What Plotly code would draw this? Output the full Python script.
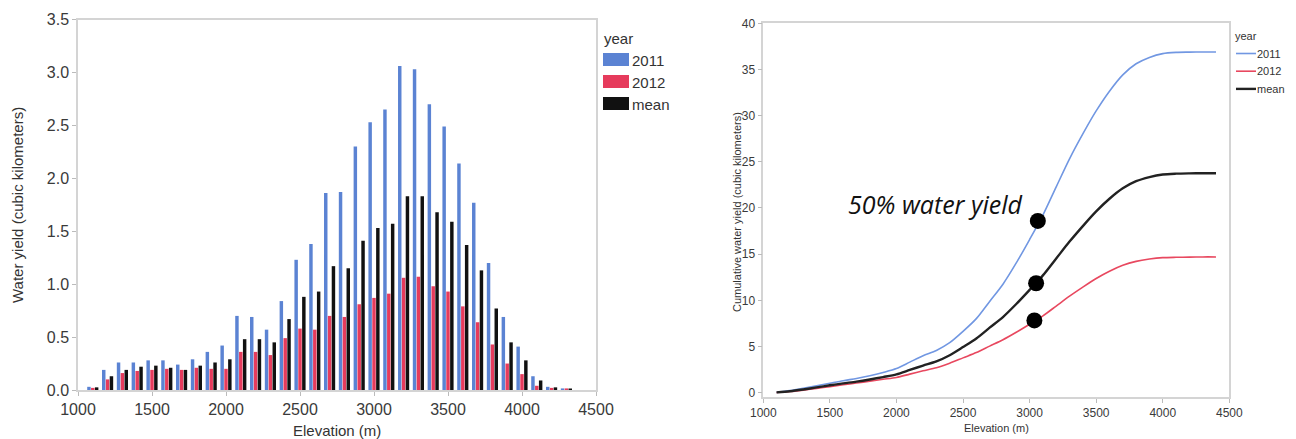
import plotly.graph_objects as go

W, H = 1296, 439

# ---------------- data ----------------
elevation = [1100, 1200, 1300, 1400, 1500, 1600, 1700, 1800, 1900, 2000,
             2100, 2200, 2300, 2400, 2500, 2600, 2700, 2800, 2900, 3000,
             3100, 3200, 3300, 3400, 3500, 3600, 3700, 3800, 3900, 4000,
             4100, 4200, 4300]
yield_2011 = [0.03, 0.19, 0.26, 0.26, 0.28, 0.28, 0.24, 0.29, 0.36, 0.42,
              0.70, 0.69, 0.57, 0.84, 1.23, 1.38, 1.86, 1.87, 2.30, 2.53,
              2.65, 3.06, 3.03, 2.70, 2.49, 2.14, 1.77, 1.20, 0.69, 0.41,
              0.13, 0.03, 0.015]
yield_2012 = [0.02, 0.10, 0.16, 0.18, 0.19, 0.20, 0.19, 0.21, 0.20, 0.20,
              0.36, 0.36, 0.33, 0.49, 0.58, 0.57, 0.70, 0.69, 0.81, 0.87,
              0.91, 1.06, 1.07, 0.98, 0.93, 0.79, 0.64, 0.43, 0.25, 0.15,
              0.04, 0.02, 0.015]
yield_mean = [0.025, 0.13, 0.19, 0.22, 0.23, 0.21, 0.19, 0.23, 0.26, 0.29,
              0.48, 0.48, 0.45, 0.67, 0.88, 0.93, 1.17, 1.15, 1.41, 1.53,
              1.57, 1.83, 1.83, 1.68, 1.59, 1.37, 1.13, 0.77, 0.45, 0.28,
              0.09, 0.025, 0.01]

cum_elevation = [1100, 1200, 1300, 1400, 1500, 1600, 1700, 1800, 1900, 2000,
                 2100, 2200, 2300, 2400, 2500, 2600, 2700, 2800, 2900, 3000,
                 3100, 3200, 3300, 3400, 3500, 3600, 3700, 3800, 3900, 4000,
                 4100, 4200, 4300, 4400]
cum_2011 = [0.03, 0.22, 0.48, 0.74, 1.02, 1.30, 1.54, 1.83, 2.19, 2.61,
            3.31, 4.00, 4.57, 5.41, 6.64, 8.02, 9.88, 11.75, 14.05, 16.58,
            19.23, 22.29, 25.32, 28.02, 30.51, 32.65, 34.42, 35.62, 36.31, 36.72,
            36.85, 36.88, 36.90, 36.90]
cum_2012 = [0.02, 0.12, 0.28, 0.46, 0.65, 0.85, 1.04, 1.25, 1.45, 1.65,
            2.01, 2.37, 2.70, 3.19, 3.77, 4.34, 5.04, 5.73, 6.54, 7.41,
            8.32, 9.38, 10.45, 11.43, 12.36, 13.15, 13.79, 14.22, 14.47, 14.62,
            14.66, 14.68, 14.70, 14.70]
cum_mean = [0.03, 0.16, 0.35, 0.57, 0.80, 1.01, 1.20, 1.43, 1.69, 1.98,
            2.46, 2.94, 3.39, 4.06, 4.94, 5.87, 7.04, 8.19, 9.60, 11.13,
            12.70, 14.53, 16.36, 18.04, 19.63, 21.00, 22.13, 22.90, 23.35, 23.63,
            23.72, 23.75, 23.76, 23.76]

half_elevation = [3062, 3036, 3049]
half_yield = [18.6, 7.83, 11.85]

series_names = ["2011", "2012", "mean"]
x_ticks = [1000, 1500, 2000, 2500, 3000, 3500, 4000, 4500]
left_y_ticks = [0.0, 0.5, 1.0, 1.5, 2.0, 2.5, 3.0, 3.5]
right_y_ticks = [0, 5, 10, 15, 20, 25, 30, 35, 40]

BAR_COLORS = ["#5B83D3", "#E63B5C", "#111111"]
LINE_COLORS = ["#7197E2", "#E8485F", "#222222"]
LINE_WIDTHS = [1.6, 1.6, 2.4]

FONT = "Liberation Sans, Arial, sans-serif"


def px(x):
    return x / W


def py(y):
    return 1 - y / H


fig = go.Figure()

for name, vals, col in zip(series_names, [yield_2011, yield_2012, yield_mean], BAR_COLORS):
    fig.add_trace(go.Bar(x=elevation, y=vals, name=name, marker_color=col,
                         marker_line_width=0, xaxis="x", yaxis="y", showlegend=False))

for name, vals, col, lw in zip(series_names, [cum_2011, cum_2012, cum_mean], LINE_COLORS, LINE_WIDTHS):
    fig.add_trace(go.Scatter(x=cum_elevation, y=vals, name=name, mode="lines",
                             line=dict(color=col, width=lw, shape="spline", smoothing=0.8),
                             xaxis="x2", yaxis="y2", showlegend=False))

fig.add_trace(go.Scatter(x=half_elevation, y=half_yield, mode="markers",
                         marker=dict(color="#000000", size=16),
                         xaxis="x2", yaxis="y2", showlegend=False, name="50%"))

axis_common = dict(showgrid=False, zeroline=False, showline=True, mirror=True,
                   linecolor="#D4D4D4", linewidth=1.5, ticks="outside",
                   tickcolor="#BBBBBB", ticklen=4, tickwidth=1, automargin=False)

fig.update_layout(
    width=W, height=H,
    margin=dict(l=0, r=0, t=0, b=0, pad=0, autoexpand=False),
    paper_bgcolor="white", plot_bgcolor="white",
    barmode="group", bargap=0.22, bargroupgap=0.1,
    font=dict(family=FONT, color="#333333"),
    xaxis=dict(domain=[px(78), px(596)], range=[1000, 4500], tickvals=x_ticks,
               tickfont=dict(size=16, color="#3A3A3A"), anchor="y", **axis_common),
    yaxis=dict(domain=[py(390), py(19.5)], range=[0, 3.5], tickvals=left_y_ticks,
               ticktext=[f"{v:.1f}" for v in left_y_ticks],
               tickfont=dict(size=16, color="#3A3A3A"), anchor="x", **axis_common),
    xaxis2=dict(domain=[px(763.3), px(1229.3)], range=[1000, 4500], tickvals=x_ticks,
                tickfont=dict(size=12, color="#3A3A3A"), anchor="y2", **axis_common),
    yaxis2=dict(domain=[py(397.3), py(23.3)], range=[-0.5, 40], tickvals=right_y_ticks,
                tickfont=dict(size=12, color="#3A3A3A"), anchor="x2", **axis_common),
)

annotations = []
shapes = []


def label(x, y, text, size, xanchor="center", angle=0, family=FONT, color="#333333"):
    annotations.append(dict(x=px(x), y=py(y), xref="paper", yref="paper",
                            xanchor=xanchor, yanchor="middle", textangle=angle,
                            text=text, showarrow=False,
                            font=dict(size=size, color=color, family=family)))


# axis titles
label(17, 205, "Water yield (cubic kilometers)", 15, angle=-90)
label(337, 430, "Elevation (m)", 15)
label(737, 212, "Cumulative water yield (cubic kilometers)", 11, angle=-90)
label(996, 428, "Elevation (m)", 11)

# 50% annotation
annotations.append(dict(x=2297, y=20.4, xref="x2", yref="y2", xanchor="center", yanchor="middle",
                        text="<i>50% water yield</i>", showarrow=False,
                        font=dict(size=25, color="#111111", family="Open Sans, sans-serif")))

# left legend (custom)
label(602, 38, "year", 15, xanchor="left")
for i, (name, col) in enumerate(zip(series_names, BAR_COLORS)):
    y0 = 53 + 22 * i
    shapes.append(dict(type="rect", xref="paper", yref="paper",
                       x0=px(603), x1=px(629), y0=py(y0), y1=py(y0 + 13),
                       fillcolor=col, line=dict(width=0)))
    label(630, y0 + 7.5, name, 15, xanchor="left")

# right legend (custom)
label(1233, 36, "year", 11, xanchor="left")
for i, (name, col, lw) in enumerate(zip(series_names, LINE_COLORS, LINE_WIDTHS)):
    yy = 53.5 + 17.7 * i
    shapes.append(dict(type="line", xref="paper", yref="paper",
                       x0=px(1236), x1=px(1256), y0=py(yy), y1=py(yy),
                       line=dict(color=col, width=lw)))
    label(1255, yy, name, 11, xanchor="left")

fig.update_layout(annotations=annotations, shapes=shapes)

fig.write_html("out.html", config={"displayModeBar": False},
               post_script="document.body.style.margin='0';document.body.style.padding='0';"
                           "document.documentElement.style.overflow='hidden';")
